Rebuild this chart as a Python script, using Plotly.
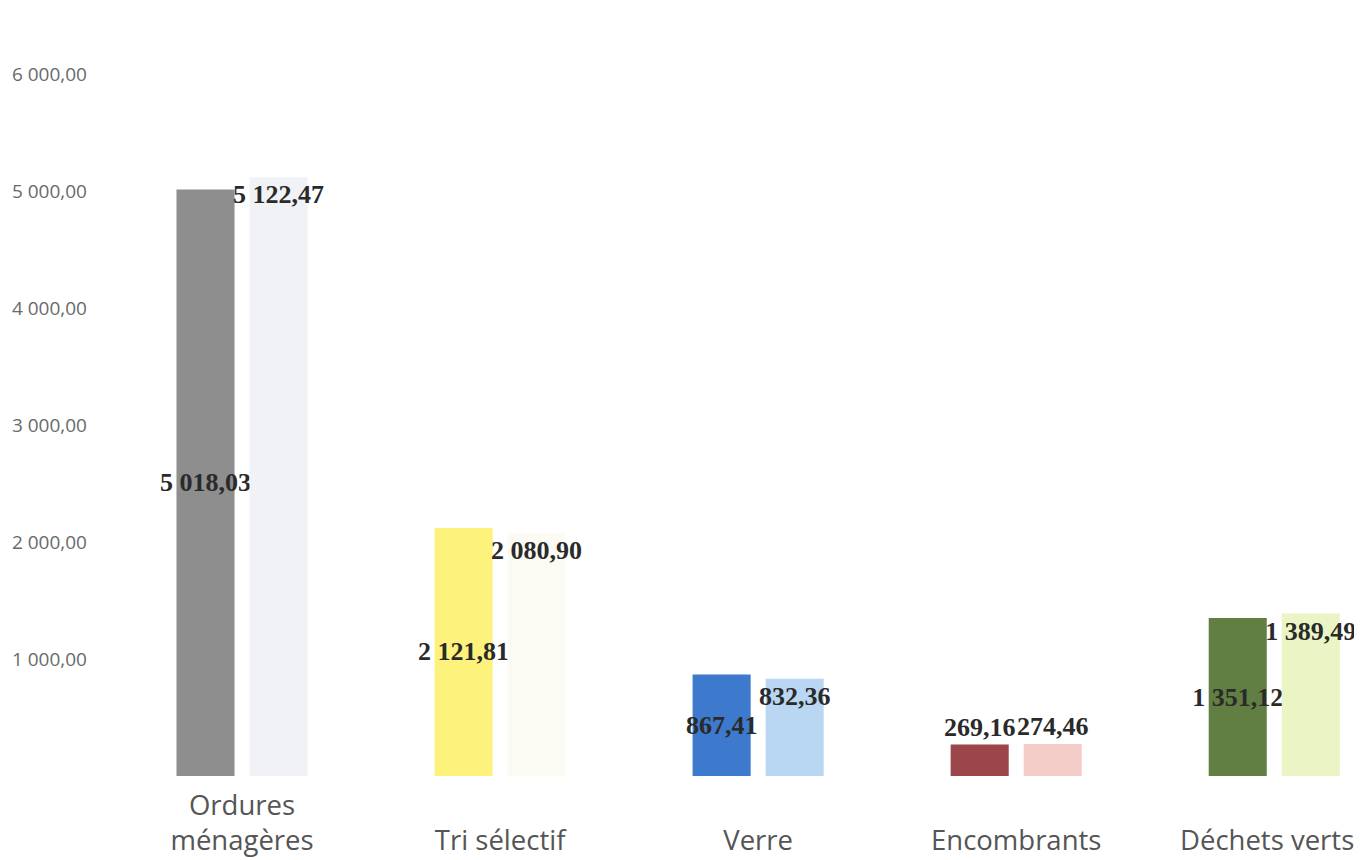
import plotly.graph_objects as go

categories = ["Ordures<br>ménagères", " <br>Tri sélectif", " <br>Verre", " <br>Encombrants", " <br>Déchets verts\u00a0\u00a0"]
serie_a = [5018.03, 2121.81, 867.41, 269.16, 1351.12]
serie_b = [5122.47, 2080.90, 832.36, 274.46, 1389.49]
colors_a = ["#8e8e8e", "#fdf27c", "#3d79cc", "#9c454b", "#627f43"]
colors_b = ["#f1f2f6", "#fbfbf4", "#b9d6f3", "#f5cdc8", "#eaf4c4"]
tick_vals = [1000, 2000, 3000, 4000, 5000, 6000]

x = list(range(len(categories)))
label_font = dict(family="Liberation Serif", size=26, color="#2a2a2a")

fig = go.Figure()
fig.add_trace(go.Bar(
    x=x, y=serie_a, marker=dict(color=colors_a, line=dict(width=0)),
    texttemplate="<b>%{y:,.2f}</b>",
    textposition=["inside", "inside", "inside", "outside", "inside"],
    insidetextanchor="middle", textangle=0, constraintext="none",
    textfont=label_font, insidetextfont=label_font, outsidetextfont=label_font,
    cliponaxis=False, showlegend=False,
))
fig.add_trace(go.Bar(
    x=x, y=serie_b, marker=dict(color=colors_b, line=dict(width=0)),
    texttemplate="<b>%{y:,.2f}</b>",
    textposition=["inside", "inside", "inside", "outside", "inside"],
    insidetextanchor="end", textangle=0, constraintext="none",
    textfont=label_font, insidetextfont=label_font, outsidetextfont=label_font,
    cliponaxis=False, showlegend=False,
))

fig.update_layout(
    width=1354, height=852,
    margin=dict(l=105, r=0, t=0, b=84),
    paper_bgcolor="white", plot_bgcolor="white",
    barmode="group", bargap=0.434, bargroupgap=0.205,
    separators=", ",
    xaxis=dict(
        tickmode="array", tickvals=x, ticktext=categories,
        range=[-0.5, 4.34], showgrid=False, zeroline=False, showline=False,
        ticks="", automargin=False, ticklabeloverflow="allow",
        ticklabelstandoff=10,
        tickfont=dict(family="Open Sans", size=27.5, color="#555555"),
    ),
    yaxis=dict(
        range=[0, 6570], tickvals=tick_vals, tickformat=",.2f",
        showgrid=False, zeroline=False, showline=False, ticks="",
        automargin=False, ticklabelstandoff=25,
        tickfont=dict(family="Open Sans", size=19, color="#6a6a6a"),
    ),
)

fig.write_html("out.html")
